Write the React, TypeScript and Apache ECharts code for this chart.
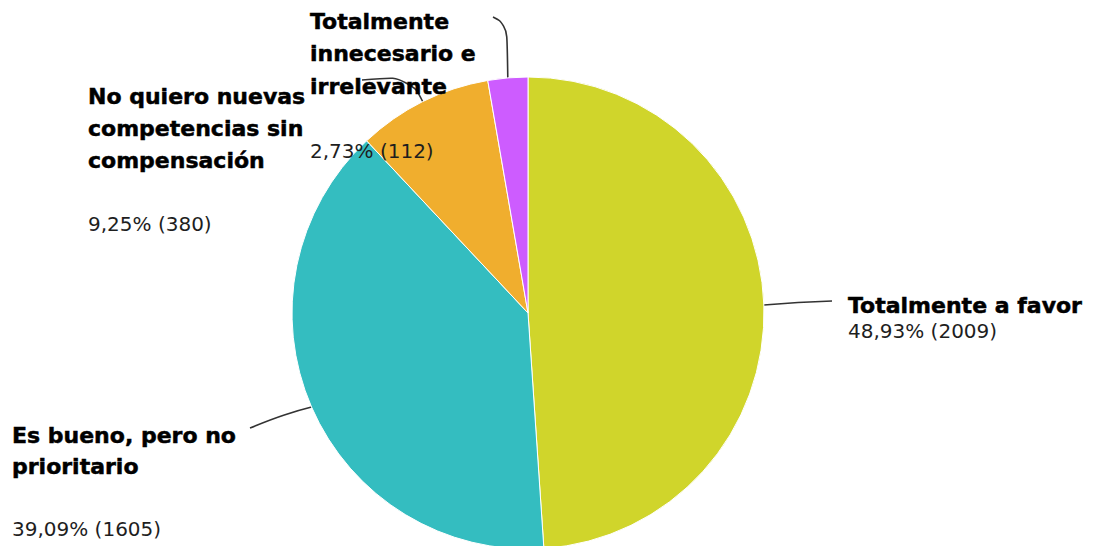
import React, { useEffect, useRef } from 'react';
import * as echarts from 'echarts';

// ---- data ----
const categories = [
  'Totalmente a favor',
  'Es bueno, pero no prioritario',
  'No quiero nuevas competencias sin compensación',
  'Totalmente innecesario e irrelevante',
];
const wrappedNames = [
  ['Totalmente a favor'],
  ['Es bueno, pero no', 'prioritario'],
  ['No quiero nuevas', 'competencias sin', 'compensación'],
  ['Totalmente', 'innecesario e', 'irrelevante'],
];
const counts = [2009, 1605, 380, 112];
const colors = ['#d0d52b', '#34bdc0', '#f0ae2e', '#cd5cff'];

// ---- label placement (layout, not data) ----
// x,y: top-left of the label block; bend/end: guide line bend and end point
const labelBoxes = [
  { x: 848, y: 292, lh: 26, gap: false, bend: [798, 302], end: [832, 301] },
  { x: 12, y: 420, lh: 31, gap: true, bend: [284, 414], end: [250, 428] },
  { x: 88, y: 80, lh: 32, gap: true, bend: [410, 76], end: [362, 80] },
  { x: 310, y: 5, lh: 32.5, gap: true, bend: [507, 24], end: [493, 17] },
];

const total = counts.reduce((a, b) => a + b, 0);
const fmtPct = (v: number) => ((v / total) * 100).toFixed(2).replace('.', ',') + '%';

export default function App() {
  const ref = useRef<HTMLDivElement>(null);

  useEffect(() => {
    if (!ref.current) return;
    const chart = echarts.init(ref.current, undefined, { renderer: 'svg' });

    const data = categories.map((name, i) => {
      const box = labelBoxes[i];
      const nameText = wrappedNames[i].map((l) => `{n|${l}}`).join('\n');
      const valText = `{v|${fmtPct(counts[i])} (${counts[i]})}`;
      const text = box.gap ? `${nameText}\n{s| }\n${valText}` : `${nameText}\n${valText}`;
      return {
        name,
        value: counts[i],
        itemStyle: { color: colors[i] },
        label: {
          formatter: () => text,
          rich: {
            n: {
              fontFamily: 'DejaVu Sans',
              fontWeight: 'bold',
              fontSize: 22,
              color: '#000',
              lineHeight: box.lh,
              textBorderColor: '#000',
              textBorderWidth: 0.5,
            },
            v: {
              fontFamily: 'DejaVu Sans',
              fontSize: 20,
              color: '#1e1e1e',
              lineHeight: box.lh,
            },
            s: { fontSize: 10, lineHeight: box.lh },
          },
        },
      };
    });

    chart.setOption({
      animation: false,
      backgroundColor: '#ffffff',
      series: [
        {
          type: 'pie',
          center: [528, 313],
          radius: 236,
          startAngle: 90,
          clockwise: true,
          avoidLabelOverlap: false,
          itemStyle: { borderColor: '#ffffff', borderWidth: 1 },
          label: { show: true, position: 'outside' },
          labelLine: {
            show: true,
            length: 14,
            length2: 20,
            smooth: 0.5,
            lineStyle: { color: '#333', width: 1.6 },
          },
          labelLayout: (params: any) => {
            const b = labelBoxes[params.dataIndex];
            const pts = params.labelLinePoints;
            const res: any = { x: b.x, y: b.y, align: 'left', verticalAlign: 'top' };
            if (pts && pts.length) {
              res.labelLinePoints = [pts[0], b.bend, b.end];
            }
            return res;
          },
          emphasis: { disabled: true },
          data,
        },
      ],
    });

    return () => chart.dispose();
  }, []);

  return (
    <div
      ref={ref}
      style={{ position: 'absolute', left: 0, top: 0, width: 1098, height: 546 }}
    />
  );
}
